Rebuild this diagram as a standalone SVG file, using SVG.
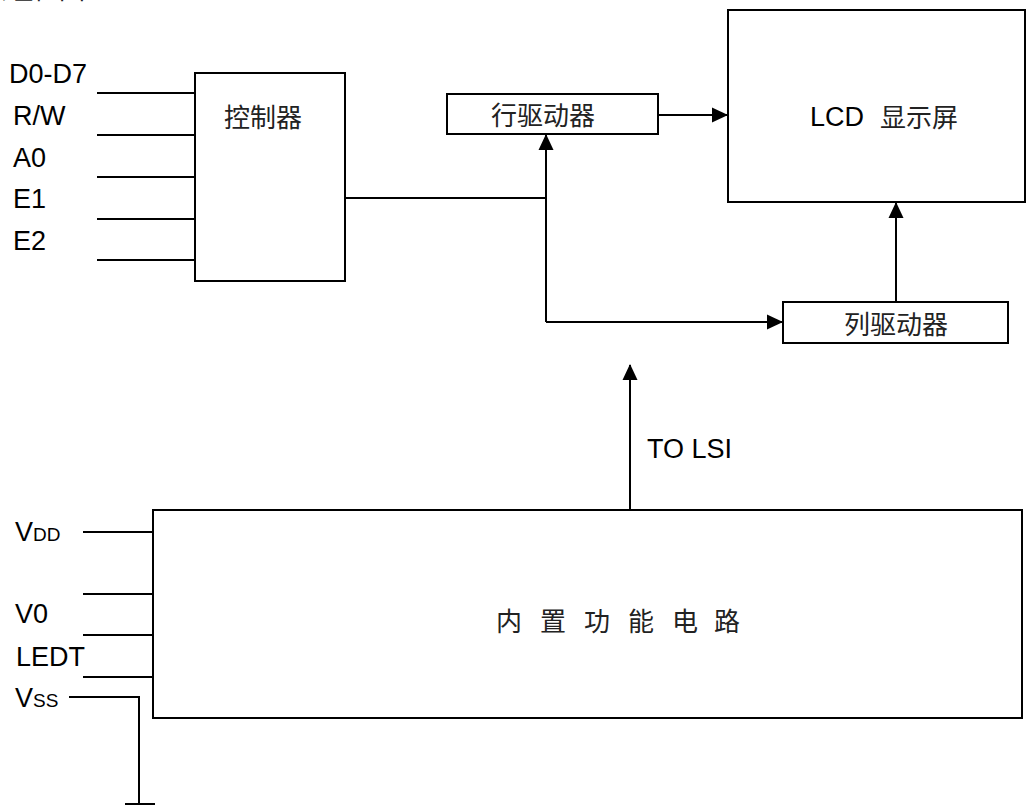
<svg xmlns="http://www.w3.org/2000/svg" width="1028" height="805" viewBox="0 0 1028 805">
<style>
.box{fill:#fff;stroke:#000;stroke-width:2}
.ln{fill:none;stroke:#000;stroke-width:2}
.lat{font-family:"Liberation Sans",Arial,sans-serif;font-size:27px;fill:#000}
.cjk{font-family:"Noto Sans CJK SC","Liberation Sans",sans-serif;font-size:26px;fill:#222}
</style>
<defs>
<marker id="arr" markerUnits="userSpaceOnUse" markerWidth="16" markerHeight="16" viewBox="0 0 16 16" refX="15" refY="8" orient="auto">
<path d="M0,0.5 L16,8 L0,15.5 Z" fill="#000"/>
</marker>
</defs>
<rect width="1028" height="805" fill="#fff"/>
<text class="cjk" x="-19" y="-1.5">原理框图</text>

<g id="controller">
<rect class="box" x="195" y="73" width="150" height="208"/>
<text class="cjk" x="263" y="127" text-anchor="middle" font-size="27">控制器</text>
</g>
<g id="row-driver">
<rect class="box" x="447" y="94" width="211" height="40"/>
<text class="cjk" x="543" y="125" text-anchor="middle" font-size="27">行驱动器</text>
</g>
<g id="lcd">
<rect class="box" x="728" y="10" width="297" height="192"/>
<text class="lat" x="810" y="126">LCD</text>
<text class="cjk" x="880" y="127">显示屏</text>
</g>
<g id="col-driver">
<rect class="box" x="783" y="302" width="225" height="41"/>
<text class="cjk" x="896" y="334" text-anchor="middle" font-size="27">列驱动器</text>
</g>
<g id="builtin">
<rect class="box" x="153" y="510" width="869" height="208"/>
<text class="cjk" y="631" font-size="24" x="496 540 584 628 672 714">内置功能电路</text>
</g>
<g id="labels">
<text class="lat" x="9" y="83">D0-D7</text>
<text class="lat" x="13" y="125">R/W</text>
<text class="lat" x="13" y="167">A0</text>
<text class="lat" x="13" y="208">E1</text>
<text class="lat" x="13" y="250">E2</text>
<text class="lat" x="647" y="458">TO LSI</text>
<text class="lat" x="15" y="541">V<tspan font-size="19">DD</tspan></text>
<text class="lat" x="15" y="623">V0</text>
<text class="lat" x="16" y="666">LEDT</text>
<text class="lat" x="15" y="707">V<tspan font-size="19">SS</tspan></text>
</g>
<g id="connectors">
<path class="ln" d="M97,93 H195 M97,135 H195 M97,177 H195 M97,219 H195 M97,260 H195"/>
<path class="ln" d="M83,532 H153 M83,594 H153 M83,635 H153 M83,677 H153"/>
<path class="ln" d="M69,697 H139 V804 M125,804 H155"/>
<path class="ln" d="M345,198 H546"/>
<path class="ln" d="M546,322 V135" marker-end="url(#arr)"/>
<path class="ln" d="M546,322 H782" marker-end="url(#arr)"/>
<path class="ln" d="M658,115 H727" marker-end="url(#arr)"/>
<path class="ln" d="M896,302 V203" marker-end="url(#arr)"/>
<path class="ln" d="M630,510 V365" marker-end="url(#arr)"/>
</g>
</svg>
